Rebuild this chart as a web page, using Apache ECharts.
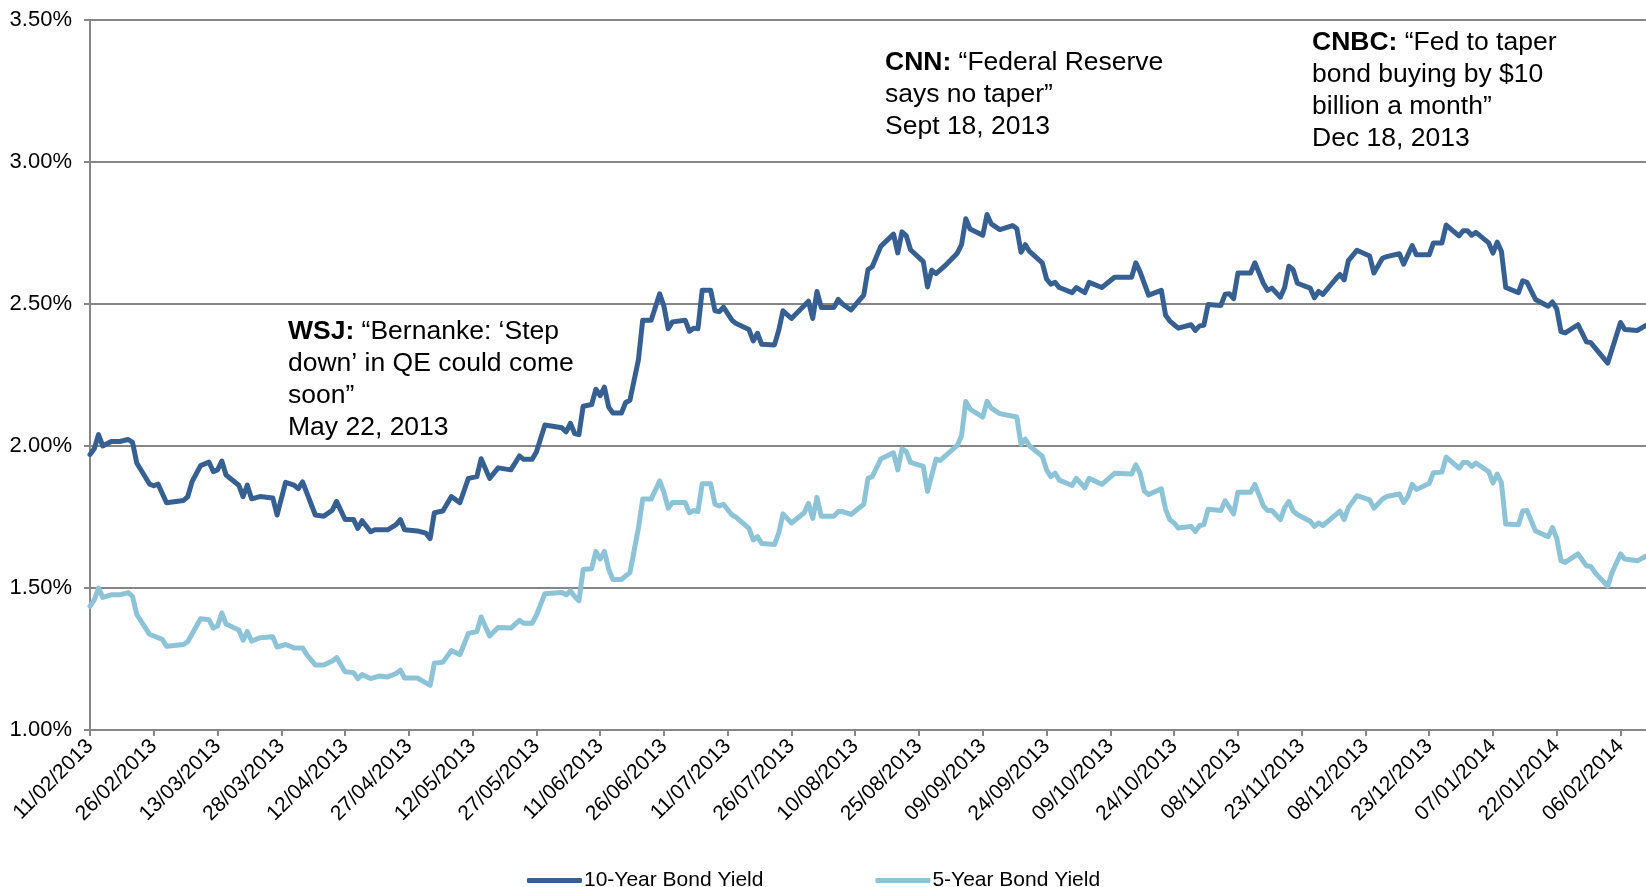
<!DOCTYPE html>
<html>
<head>
<meta charset="utf-8">
<script src="https://cdn.jsdelivr.net/npm/echarts/dist/echarts.min.js"></script>
<style>html,body{margin:0;padding:0;background:#fff}#chart{width:1646px;height:887px}</style>
</head>
<body>
<div id="chart"></div>
<script>
// Axis range (calendar days, dd/mm/yyyy)
const axisStart = '11/02/2013';
const axisEnd = '12/02/2014';
const yTickValues = [1.0, 1.5, 2.0, 2.5, 3.0, 3.5];
const seriesNames = ['10-Year Bond Yield', '5-Year Bond Yield'];

// 10-Year Bond Yield (%)
const tenYear = [
['11/02/2013',1.97],['12/02/2013',1.99],['13/02/2013',2.04],['14/02/2013',2.00],['16/02/2013',2.016],['18/02/2013',2.016],
['20/02/2013',2.023],['21/02/2013',2.013],['22/02/2013',1.94],['25/02/2013',1.866],['26/02/2013',1.86],['27/02/2013',1.866],
['01/03/2013',1.80],['05/03/2013',1.808],['06/03/2013',1.822],['07/03/2013',1.874],['09/03/2013',1.931],['11/03/2013',1.943],
['12/03/2013',1.91],['13/03/2013',1.916],['14/03/2013',1.947],['15/03/2013',1.898],['18/03/2013',1.862],['19/03/2013',1.822],
['20/03/2013',1.862],['21/03/2013',1.814],['23/03/2013',1.822],['26/03/2013',1.817],['27/03/2013',1.757],['29/03/2013',1.872],
['31/03/2013',1.862],['01/04/2013',1.85],['02/04/2013',1.874],['05/04/2013',1.757],['07/04/2013',1.753],['09/04/2013',1.774],
['10/04/2013',1.805],['12/04/2013',1.741],['14/04/2013',1.741],['15/04/2013',1.71],['16/04/2013',1.737],['18/04/2013',1.698],
['19/04/2013',1.705],['22/04/2013',1.705],['24/04/2013',1.723],['25/04/2013',1.741],['26/04/2013',1.705],['29/04/2013',1.701],
['01/05/2013',1.693],['02/05/2013',1.674],['03/05/2013',1.765],['05/05/2013',1.771],['07/05/2013',1.822],['09/05/2013',1.80],
['11/05/2013',1.886],['13/05/2013',1.892],['14/05/2013',1.955],['16/05/2013',1.886],['18/05/2013',1.923],['21/05/2013',1.916],
['23/05/2013',1.965],['24/05/2013',1.953],['26/05/2013',1.953],['27/05/2013',1.979],['29/05/2013',2.074],['02/06/2013',2.064],
['03/06/2013',2.05],['04/06/2013',2.08],['05/06/2013',2.044],['06/06/2013',2.04],['07/06/2013',2.14],['09/06/2013',2.146],
['10/06/2013',2.20],['11/06/2013',2.177],['12/06/2013',2.207],['13/06/2013',2.137],['14/06/2013',2.116],['16/06/2013',2.116],
['17/06/2013',2.153],['18/06/2013',2.161],['20/06/2013',2.304],['21/06/2013',2.443],['23/06/2013',2.443],['25/06/2013',2.536],
['26/06/2013',2.492],['27/06/2013',2.413],['28/06/2013',2.437],['01/07/2013',2.443],['02/07/2013',2.404],['03/07/2013',2.415],
['04/07/2013',2.413],['05/07/2013',2.548],['07/07/2013',2.548],['08/07/2013',2.476],['09/07/2013',2.473],['10/07/2013',2.489],
['12/07/2013',2.443],['13/07/2013',2.431],['16/07/2013',2.41],['17/07/2013',2.37],['18/07/2013',2.397],['19/07/2013',2.358],
['22/07/2013',2.356],['23/07/2013',2.407],['24/07/2013',2.476],['26/07/2013',2.449],['30/07/2013',2.51],['31/07/2013',2.449],
['01/08/2013',2.544],['02/08/2013',2.488],['05/08/2013',2.488],['06/08/2013',2.516],['07/08/2013',2.50],['09/08/2013',2.479],
['12/08/2013',2.531],['13/08/2013',2.621],['14/08/2013',2.631],['16/08/2013',2.703],['19/08/2013',2.746],['20/08/2013',2.68],
['21/08/2013',2.754],['22/08/2013',2.74],['23/08/2013',2.691],['26/08/2013',2.649],['27/08/2013',2.56],['28/08/2013',2.619],
['29/08/2013',2.607],['31/08/2013',2.633],['03/09/2013',2.679],['04/09/2013',2.709],['05/09/2013',2.80],['06/09/2013',2.764],
['09/09/2013',2.742],['10/09/2013',2.815],['11/09/2013',2.782],['13/09/2013',2.762],['16/09/2013',2.776],['17/09/2013',2.766],
['18/09/2013',2.682],['19/09/2013',2.709],['20/09/2013',2.685],['23/09/2013',2.645],['24/09/2013',2.588],['25/09/2013',2.57],
['26/09/2013',2.576],['27/09/2013',2.558],['30/09/2013',2.54],['01/10/2013',2.558],['03/10/2013',2.54],['04/10/2013',2.576],
['07/10/2013',2.558],['10/10/2013',2.594],['14/10/2013',2.594],['15/10/2013',2.645],['16/10/2013',2.613],['18/10/2013',2.531],
['21/10/2013',2.548],['22/10/2013',2.46],['23/10/2013',2.44],['24/10/2013',2.427],['25/10/2013',2.415],['28/10/2013',2.427],
['29/10/2013',2.407],['30/10/2013',2.423],['31/10/2013',2.425],['01/11/2013',2.498],['04/11/2013',2.495],['05/11/2013',2.534],
['06/11/2013',2.536],['07/11/2013',2.519],['08/11/2013',2.609],['11/11/2013',2.609],['12/11/2013',2.645],['14/11/2013',2.573],
['15/11/2013',2.548],['16/11/2013',2.556],['18/11/2013',2.524],['19/11/2013',2.558],['20/11/2013',2.633],['21/11/2013',2.621],
['22/11/2013',2.573],['25/11/2013',2.556],['26/11/2013',2.522],['27/11/2013',2.544],['28/11/2013',2.534],['01/12/2013',2.588],
['02/12/2013',2.604],['03/12/2013',2.585],['04/12/2013',2.653],['06/12/2013',2.689],['09/12/2013',2.669],['10/12/2013',2.609],
['12/12/2013',2.661],['13/12/2013',2.667],['16/12/2013',2.677],['17/12/2013',2.64],['19/12/2013',2.706],['20/12/2013',2.673],
['23/12/2013',2.673],['24/12/2013',2.715],['26/12/2013',2.715],['27/12/2013',2.778],['30/12/2013',2.74],['31/12/2013',2.758],
['01/01/2014',2.758],['02/01/2014',2.742],['03/01/2014',2.752],['06/01/2014',2.715],['07/01/2014',2.679],['08/01/2014',2.718],
['09/01/2014',2.685],['10/01/2014',2.558],['13/01/2014',2.54],['14/01/2014',2.582],['15/01/2014',2.576],['17/01/2014',2.516],
['20/01/2014',2.492],['21/01/2014',2.507],['22/01/2014',2.483],['23/01/2014',2.403],['24/01/2014',2.398],['27/01/2014',2.427],
['29/01/2014',2.367],['30/01/2014',2.364],['01/02/2014',2.328],['03/02/2014',2.292],['04/02/2014',2.34],['06/02/2014',2.435],
['07/02/2014',2.41],['10/02/2014',2.407],['12/02/2014',2.425]
];

// 5-Year Bond Yield (%)
const fiveYear = [
['11/02/2013',1.436],['12/02/2013',1.458],['13/02/2013',1.50],['14/02/2013',1.467],['16/02/2013',1.476],['18/02/2013',1.476],
['20/02/2013',1.484],['21/02/2013',1.47],['22/02/2013',1.407],['25/02/2013',1.337],['28/02/2013',1.319],['01/03/2013',1.295],
['05/03/2013',1.301],['06/03/2013',1.311],['09/03/2013',1.392],['11/03/2013',1.388],['12/03/2013',1.359],['13/03/2013',1.366],
['14/03/2013',1.412],['15/03/2013',1.373],['18/03/2013',1.352],['19/03/2013',1.316],['20/03/2013',1.347],['21/03/2013',1.313],
['23/03/2013',1.325],['26/03/2013',1.328],['27/03/2013',1.292],['29/03/2013',1.301],['31/03/2013',1.289],['02/04/2013',1.289],
['03/04/2013',1.265],['05/04/2013',1.229],['07/04/2013',1.229],['09/04/2013',1.243],['10/04/2013',1.255],['12/04/2013',1.205],
['14/04/2013',1.202],['15/04/2013',1.181],['16/04/2013',1.195],['18/04/2013',1.181],['20/04/2013',1.19],['22/04/2013',1.187],
['24/04/2013',1.199],['25/04/2013',1.211],['26/04/2013',1.183],['29/04/2013',1.183],['01/05/2013',1.166],['02/05/2013',1.157],
['03/05/2013',1.235],['05/05/2013',1.239],['07/05/2013',1.28],['09/05/2013',1.265],['11/05/2013',1.34],['13/05/2013',1.347],
['14/05/2013',1.398],['16/05/2013',1.331],['18/05/2013',1.361],['21/05/2013',1.359],['23/05/2013',1.386],['24/05/2013',1.376],
['26/05/2013',1.376],['27/05/2013',1.404],['29/05/2013',1.48],['02/06/2013',1.484],['03/06/2013',1.476],['04/06/2013',1.49],
['05/06/2013',1.47],['06/06/2013',1.455],['07/06/2013',1.565],['09/06/2013',1.568],['10/06/2013',1.629],['11/06/2013',1.602],
['12/06/2013',1.629],['13/06/2013',1.566],['14/06/2013',1.53],['16/06/2013',1.53],['17/06/2013',1.542],['18/06/2013',1.554],
['20/06/2013',1.711],['21/06/2013',1.813],['23/06/2013',1.813],['25/06/2013',1.877],['26/06/2013',1.837],['27/06/2013',1.781],
['28/06/2013',1.801],['01/07/2013',1.801],['02/07/2013',1.765],['03/07/2013',1.773],['04/07/2013',1.769],['05/07/2013',1.867],
['07/07/2013',1.867],['08/07/2013',1.795],['09/07/2013',1.789],['10/07/2013',1.795],['12/07/2013',1.757],['13/07/2013',1.749],
['16/07/2013',1.71],['17/07/2013',1.669],['18/07/2013',1.681],['19/07/2013',1.657],['22/07/2013',1.653],['23/07/2013',1.693],
['24/07/2013',1.761],['26/07/2013',1.729],['29/07/2013',1.765],['30/07/2013',1.798],['31/07/2013',1.745],['01/08/2013',1.819],
['02/08/2013',1.753],['05/08/2013',1.753],['06/08/2013',1.769],['07/08/2013',1.769],['09/08/2013',1.759],['12/08/2013',1.795],
['13/08/2013',1.886],['14/08/2013',1.892],['16/08/2013',1.954],['19/08/2013',1.976],['20/08/2013',1.916],['21/08/2013',1.99],
['22/08/2013',1.98],['23/08/2013',1.942],['26/08/2013',1.928],['27/08/2013',1.84],['29/08/2013',1.954],['30/08/2013',1.949],
['03/09/2013',2.002],['04/09/2013',2.036],['05/09/2013',2.157],['06/09/2013',2.13],['09/09/2013',2.102],['10/09/2013',2.157],
['11/09/2013',2.133],['13/09/2013',2.114],['17/09/2013',2.102],['18/09/2013',2.006],['19/09/2013',2.024],['20/09/2013',2.00],
['23/09/2013',1.964],['24/09/2013',1.916],['25/09/2013',1.892],['26/09/2013',1.904],['27/09/2013',1.88],['30/09/2013',1.861],
['01/10/2013',1.886],['03/10/2013',1.853],['04/10/2013',1.886],['07/10/2013',1.865],['10/10/2013',1.904],['14/10/2013',1.901],
['15/10/2013',1.934],['16/10/2013',1.904],['17/10/2013',1.841],['18/10/2013',1.829],['21/10/2013',1.849],['22/10/2013',1.777],
['23/10/2013',1.74],['24/10/2013',1.729],['25/10/2013',1.711],['28/10/2013',1.717],['29/10/2013',1.699],['30/10/2013',1.72],
['31/10/2013',1.723],['01/11/2013',1.777],['04/11/2013',1.773],['05/11/2013',1.807],['06/11/2013',1.785],['07/11/2013',1.761],
['08/11/2013',1.837],['11/11/2013',1.837],['12/11/2013',1.865],['14/11/2013',1.789],['15/11/2013',1.773],['16/11/2013',1.773],
['18/11/2013',1.741],['19/11/2013',1.783],['20/11/2013',1.805],['21/11/2013',1.771],['22/11/2013',1.759],['25/11/2013',1.735],
['26/11/2013',1.717],['27/11/2013',1.729],['28/11/2013',1.72],['30/11/2013',1.745],['02/12/2013',1.771],['03/12/2013',1.741],
['04/12/2013',1.783],['06/12/2013',1.825],['09/12/2013',1.81],['10/12/2013',1.781],['12/12/2013',1.813],['13/12/2013',1.822],
['16/12/2013',1.831],['17/12/2013',1.801],['18/12/2013',1.822],['19/12/2013',1.865],['20/12/2013',1.847],['23/12/2013',1.868],
['24/12/2013',1.906],['26/12/2013',1.908],['27/12/2013',1.961],['30/12/2013',1.922],['31/12/2013',1.942],['01/01/2014',1.942],
['02/01/2014',1.928],['03/01/2014',1.94],['06/01/2014',1.91],['07/01/2014',1.87],['08/01/2014',1.901],['09/01/2014',1.87],
['10/01/2014',1.725],['13/01/2014',1.723],['14/01/2014',1.771],['15/01/2014',1.773],['17/01/2014',1.701],['20/01/2014',1.681],
['21/01/2014',1.713],['22/01/2014',1.675],['23/01/2014',1.596],['24/01/2014',1.59],['27/01/2014',1.62],['29/01/2014',1.578],
['30/01/2014',1.576],['31/01/2014',1.554],['03/02/2014',1.506],['04/02/2014',1.554],['06/02/2014',1.62],['07/02/2014',1.602],
['10/02/2014',1.596],['12/02/2014',1.612]
];

// Build the calendar-day category axis
function parseDMY(s) { const p = s.split('/'); return Date.UTC(+p[2], +p[1] - 1, +p[0]); }
function fmt(t) { const d = new Date(t); const dd = String(d.getUTCDate()).padStart(2, '0'); const mm = String(d.getUTCMonth() + 1).padStart(2, '0'); return dd + '/' + mm + '/' + d.getUTCFullYear(); }
const categories = [];
for (let t = parseDMY(axisStart); t <= parseDMY(axisEnd); t += 86400000) categories.push(fmt(t));
function toSeries(points) {
  const m = new Map(points);
  return categories.map(c => (m.has(c) ? m.get(c) : null));
}

const FONT = 'Liberation Sans, Arial, sans-serif';
const chart = echarts.init(document.getElementById('chart'), null, { renderer: 'canvas' });
const richBold = { b: { fontWeight: 'bold', fontSize: 26.5, fontFamily: FONT, lineHeight: 32 } };
const option = {
  animation: false,
  backgroundColor: '#ffffff',
  grid: { left: 90, right: 0, top: 20, bottom: 157, containLabel: false },
  xAxis: {
    type: 'category',
    data: categories,
    boundaryGap: false,
    axisLine: { show: true, lineStyle: { color: '#868686', width: 2 } },
    axisTick: { show: true, interval: 14, length: 6, lineStyle: { color: '#868686', width: 2 } },
    axisLabel: { interval: 14, rotate: 45, margin: 13, color: '#000', fontSize: 21, fontFamily: FONT },
    splitLine: { show: false }
  },
  yAxis: {
    type: 'value',
    min: yTickValues[0],
    max: yTickValues[yTickValues.length - 1],
    interval: 0.5,
    axisLine: { show: true, lineStyle: { color: '#868686', width: 2 } },
    axisTick: { show: true, length: 6, lineStyle: { color: '#868686', width: 2 } },
    axisLabel: { margin: 18, color: '#000', fontSize: 22, fontFamily: FONT, formatter: v => v.toFixed(2) + '%' },
    splitLine: { show: true, lineStyle: { color: '#868686', width: 2 } }
  },
  legend: {
    left: 522, top: 865,
    itemWidth: 55, itemHeight: 5, itemGap: 112,
    icon: 'roundRect',
    textStyle: { color: '#000', fontSize: 21, fontFamily: FONT, padding: [0, 0, 0, -3] },
    data: seriesNames
  },
  series: [
    {
      name: seriesNames[0], type: 'line', data: toSeries(tenYear), connectNulls: true,
      showSymbol: false, symbol: 'none', color: '#376092',
      lineStyle: { color: '#376092', width: 5, cap: 'round', join: 'round' }, z: 3
    },
    {
      name: seriesNames[1], type: 'line', data: toSeries(fiveYear), connectNulls: true,
      showSymbol: false, symbol: 'none', color: '#8dc3d6',
      lineStyle: { color: '#8dc3d6', width: 5, cap: 'round', join: 'round' }, z: 2
    }
  ],
  graphic: [
    {
      type: 'text', left: 288, top: 316, z: 10,
      style: {
        text: '{b|WSJ:} “Bernanke: ‘Step\ndown’ in QE could come\nsoon”\nMay 22, 2013',
        fontSize: 26.5, fontFamily: FONT, fill: '#000', lineHeight: 32, rich: richBold
      }
    },
    {
      type: 'text', left: 885, top: 47, z: 10,
      style: {
        text: '{b|CNN:} “Federal Reserve\nsays no taper”\nSept 18, 2013',
        fontSize: 26.5, fontFamily: FONT, fill: '#000', lineHeight: 32, rich: richBold
      }
    },
    {
      type: 'text', left: 1312, top: 27, z: 10,
      style: {
        text: '{b|CNBC:} “Fed to taper\nbond buying by $10\nbillion a month”\nDec 18, 2013',
        fontSize: 26.5, fontFamily: FONT, fill: '#000', lineHeight: 32, rich: richBold
      }
    }
  ]
};
chart.setOption(option);
</script>
</body>
</html>
